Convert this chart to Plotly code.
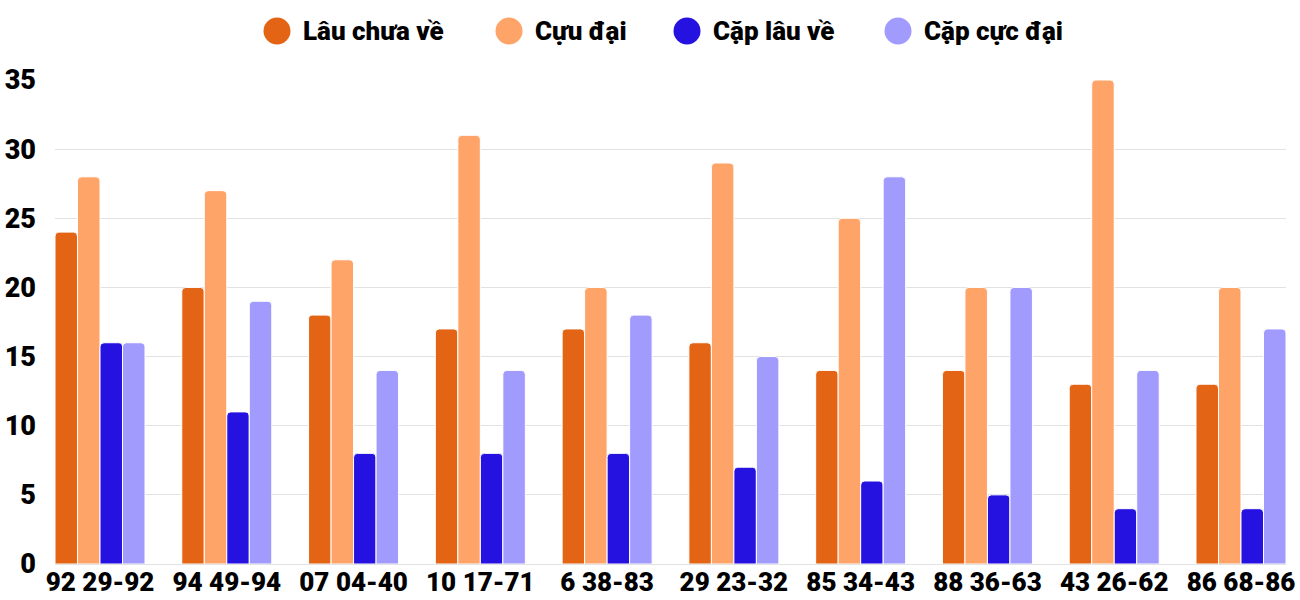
import plotly.graph_objects as go

categories = ["92 29-92", "94 49-94", "07 04-40", "10 17-71", "6 38-83",
              "29 23-32", "85 34-43", "88 36-63", "43 26-62", "86 68-86"]
series_names = ["Lâu chưa về", "Cựu đại", "Cặp lâu về", "Cặp cực đại"]
lau_chua_ve = [24, 20, 18, 17, 17, 16, 14, 14, 13, 13]
cuu_dai = [28, 27, 22, 31, 20, 29, 25, 20, 35, 20]
cap_lau_ve = [16, 11, 8, 8, 8, 7, 6, 5, 4, 4]
cap_cuc_dai = [16, 19, 14, 14, 18, 15, 28, 20, 14, 17]
y_ticks = [0, 5, 10, 15, 20, 25, 30, 35]

colors = ["#E36414", "#FFA468", "#2612E0", "#A29BFE"]
series_values = [lau_chua_ve, cuu_dai, cap_lau_ve, cap_cuc_dai]

FONT = "Roboto"
WEIGHT = 900
W, H = 1300, 600
ML, MR, MT, MB = 55, 14, 80, 36

fig = go.Figure()
for name, vals, col in zip(series_names, series_values, colors):
    fig.add_trace(go.Bar(
        x=categories, y=vals, name=name,
        marker=dict(color=col, line=dict(color="white", width=1)),
        showlegend=False,
    ))

# manual legend (large circular markers)
legend_px = [277, 509, 687, 898]  # marker centers in pixels
plot_w = W - ML - MR
plot_h = H - MT - MB
legend_y_px = 31
ly = (H - MB - legend_y_px) / plot_h
shapes = []
annotations = []
for name, col, px in zip(series_names, colors, legend_px):
    xa = (px - ML) / plot_w
    shapes.append(dict(type="circle", xref="paper", yref="paper",
                       xsizemode="pixel", ysizemode="pixel",
                       xanchor=xa, yanchor=ly, x0=-13.5, x1=13.5, y0=-13.5, y1=13.5,
                       fillcolor=col, line=dict(width=0)))
    annotations.append(dict(text=name, xref="paper", yref="paper",
                            x=(px + 24 - ML) / plot_w, y=ly,
                            xanchor="left", yanchor="middle", showarrow=False,
                            font=dict(family=FONT, size=26, weight=WEIGHT, color="#000")))

fig.update_layout(
    width=W, height=H,
    margin=dict(l=ML, r=MR, t=MT, b=MB),
    barmode="group", bargap=0.29, bargroupgap=0,
    barcornerradius=4,
    plot_bgcolor="white", paper_bgcolor="white",
    shapes=shapes, annotations=annotations,
    showlegend=False,
    font=dict(family=FONT, size=27, weight=WEIGHT, color="#000"),
)
fig.update_xaxes(range=[-0.355, 9.355], showgrid=False, showline=False,
                 ticks="", automargin=False, ticklabelstandoff=0,
                 tickfont=dict(family=FONT, size=26, weight=WEIGHT, color="#000"))
fig.update_yaxes(range=[0, 35], tickvals=y_ticks, showgrid=True,
                 gridcolor="#E2E2E2", gridwidth=1, zeroline=True,
                 zerolinecolor="#E2E2E2", zerolinewidth=1,
                 ticks="", ticklabelstandoff=18, automargin=False,
                 tickfont=dict(family=FONT, size=27, weight=WEIGHT, color="#000"))

fig.write_html("out.html")
